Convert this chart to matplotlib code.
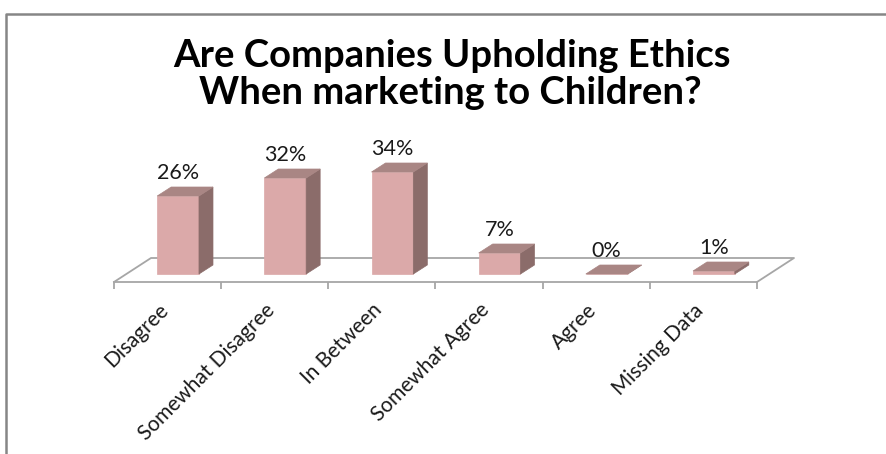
import matplotlib
matplotlib.use("Agg")
import matplotlib.pyplot as plt
import numpy as np
from matplotlib.patches import Polygon
from matplotlib.transforms import IdentityTransform, ScaledTranslation
from matplotlib.lines import Line2D

# Survey responses
categories = ["Disagree", "Somewhat Disagree", "In Between",
              "Somewhat Agree", "Agree", "Missing Data"]
percentages = [26, 32, 34, 7, 0, 1]
value_labels = ["26%", "32%", "34%", "7%", "0%", "1%"]
title_lines = ["Are Companies Upholding Ethics", "When marketing to Children?"]

FRONT = "#DBA9A9"
SIDE = "#8B6C6A"
TOP = "#A98684"
FLOOR = "#A6A6A6"
FRAME = "#868686"

W, H, DPI = 887, 454, 100
fig = plt.figure(figsize=(W / DPI, H / DPI), dpi=DPI)
fig.patch.set_facecolor("white")

# Axes = front edge of the floor plane
ax_left, ax_right, ax_base = 114, 757, 282
ax = fig.add_axes([ax_left / W, (H - ax_base) / H,
                   (ax_right - ax_left) / W, 120 / H])
n = len(categories)
ax.set_xlim(-0.5, n - 0.5)
ax.set_ylim(0, 40)
ax.patch.set_visible(False)
for s in ["left", "right", "top"]:
    ax.spines[s].set_visible(False)
ax.spines["bottom"].set_color(FLOOR)
ax.spines["bottom"].set_linewidth(1.3)
ax.set_yticks([])

# Category boundaries get the tick marks, labels sit at category centres
ax.set_xticks(np.arange(n))
ax.set_xticks(np.arange(n + 1) - 0.5, minor=True)
ax.tick_params(axis="x", which="major", length=0, pad=13)
ax.tick_params(axis="x", which="minor", length=5, width=1.3, color=FLOOR,
               direction="out")
ax.set_xticklabels(categories, rotation=45, ha="right", va="top",
                   rotation_mode="anchor", fontsize=15, family="Lato",
                   color="#1a1a1a")
shift = ScaledTranslation(-10 / DPI, 0, fig.dpi_scale_trans)
for lbl in ax.get_xticklabels():
    lbl.set_transform(lbl.get_transform() + shift)

# Oblique depth vectors (pixels)
floor_depth = np.array([37.0, 24.0])
bar_shift = np.array([10.5, 8.0])
bar_depth = np.array([14.0, 9.0])
bar_w = 0.39

def px(x, y, offset=(0.0, 0.0)):
    p = ax.transData.transform((x, y))
    return p + np.asarray(offset)

# Floor outline (back edge and two side edges)
x0, x1 = -0.5, n - 0.5
floor_pts = [px(x0, 0), px(x0, 0, floor_depth),
             px(x1, 0, floor_depth), px(x1, 0)]
floor_line = Line2D([p[0] for p in floor_pts], [p[1] for p in floor_pts],
                    transform=IdentityTransform(), color=FLOOR, lw=1.3)
fig.add_artist(floor_line)

# 3-D looking columns
for i, v in enumerate(percentages):
    l, r = i - bar_w / 2, i + bar_w / 2
    fbl, fbr = px(l, 0, bar_shift), px(r, 0, bar_shift)
    ftl, ftr = px(l, v, bar_shift), px(r, v, bar_shift)
    btl, btr = ftl + bar_depth, ftr + bar_depth
    bbr = fbr + bar_depth
    faces = [([fbl, fbr, ftr, ftl], FRONT),
             ([fbr, bbr, btr, ftr], SIDE),
             ([ftl, ftr, btr, btl], TOP)]
    for verts, col in faces:
        fig.add_artist(Polygon(verts, closed=True, facecolor=col,
                               edgecolor=col, lw=0.5,
                               transform=IdentityTransform(), zorder=3))
    cx = (ftl[0] + ftr[0]) / 2
    ty = btl[1] + 4
    fig.text(cx / W, ty / H, value_labels[i], ha="center", va="bottom",
             fontsize=15.5, family="Lato", color="#1a1a1a", zorder=4)

# Title
fig.text(452 / W, 1 - 56 / H, title_lines[0], ha="center", va="center",
         fontsize=27.5, fontweight="bold", family="Lato", color="black")
fig.text(450 / W, 1 - 93 / H, title_lines[1], ha="center", va="center",
         fontsize=27.5, fontweight="bold", family="Lato", color="black")

# Chart area border (top and left edges)
fig.add_artist(Line2D([6 / W, 6 / W, 1.0], [0.0, 1 - 14 / H, 1 - 14 / H],
                      transform=fig.transFigure, color=FRAME, lw=1.8))

fig.savefig("out.png", dpi=DPI)
